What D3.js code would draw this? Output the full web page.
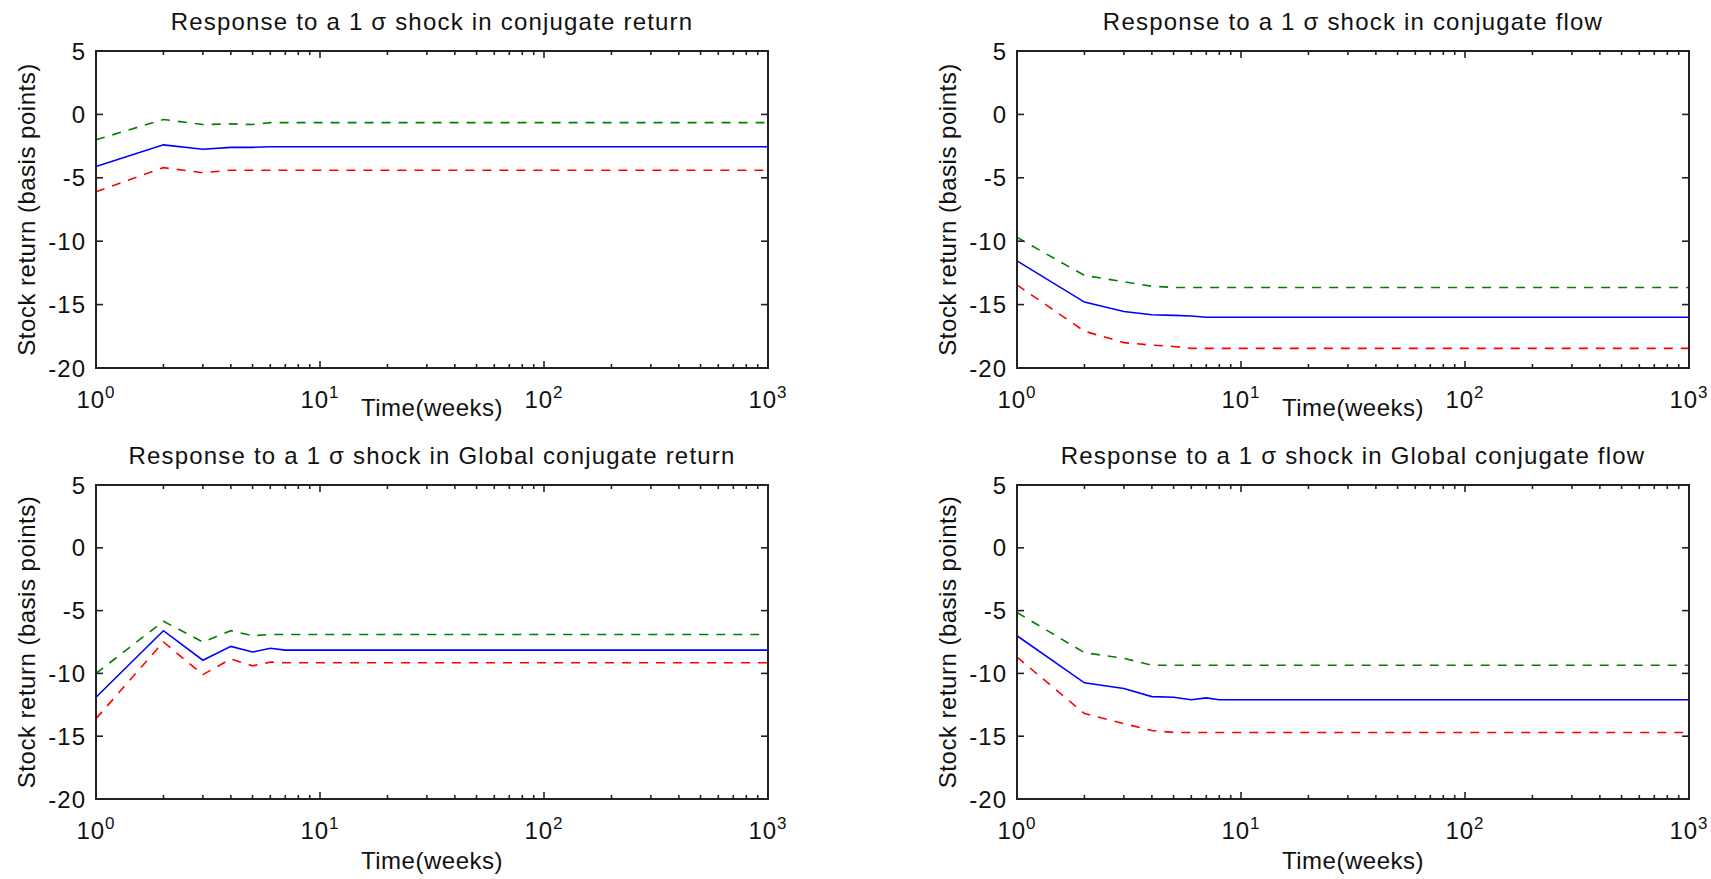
<!DOCTYPE html>
<html>
<head>
<meta charset="utf-8">
<script src="https://cdn.jsdelivr.net/npm/d3@7"></script>
<style>
  body { margin: 0; background: #fff; }
  svg text { font-family: "Liberation Sans", Arial, sans-serif; fill: #111; }
</style>
</head>
<body>
<svg id="chart" width="1711" height="879"></svg>
<script>
// DATA //
var weeks = [1, 2, 3, 4, 5, 6, 7, 8, 10, 100, 1000];

// conjugate return
var retMid = [-4.1, -2.4, -2.75, -2.6, -2.6, -2.55, -2.55, -2.55, -2.55, -2.55, -2.55];
var retUp  = [-2.0, -0.4, -0.8, -0.75, -0.8, -0.65, -0.65, -0.65, -0.65, -0.65, -0.65];
var retLo  = [-6.1, -4.2, -4.6, -4.4, -4.4, -4.4, -4.4, -4.4, -4.4, -4.4, -4.4];

// conjugate flow
var flowMid = [-11.55, -14.8, -15.55, -15.8, -15.85, -15.9, -16.0, -16.0, -16.0, -16.0, -16.0];
var flowUp  = [-9.7, -12.7, -13.2, -13.55, -13.65, -13.65, -13.65, -13.65, -13.65, -13.65, -13.65];
var flowLo  = [-13.45, -17.1, -18.0, -18.2, -18.3, -18.45, -18.45, -18.45, -18.45, -18.45, -18.45];

// Global conjugate return
var gRetMid = [-11.9, -6.6, -8.95, -7.85, -8.3, -8.0, -8.15, -8.15, -8.15, -8.15, -8.15];
var gRetUp  = [-10.0, -5.85, -7.5, -6.6, -7.0, -6.9, -6.9, -6.9, -6.9, -6.9, -6.9];
var gRetLo  = [-13.6, -7.5, -10.1, -8.85, -9.4, -9.1, -9.15, -9.15, -9.15, -9.15, -9.15];

// Global conjugate flow
var gFlowMid = [-7.0, -10.75, -11.2, -11.85, -11.9, -12.1, -11.95, -12.1, -12.1, -12.1, -12.1];
var gFlowUp  = [-5.15, -8.35, -8.8, -9.35, -9.35, -9.35, -9.35, -9.35, -9.35, -9.35, -9.35];
var gFlowLo  = [-8.7, -13.2, -14.0, -14.55, -14.7, -14.7, -14.7, -14.7, -14.7, -14.7, -14.7];

var titles = [
    'Response to a 1 \u03c3 shock in conjugate return',
    'Response to a 1 \u03c3 shock in conjugate flow',
    'Response to a 1 \u03c3 shock in Global conjugate return',
    'Response to a 1 \u03c3 shock in Global conjugate flow'
];
var yTicks = [5, 0, -5, -10, -15, -20];
var xMajor = [1, 10, 100, 1000];
var xLabel = 'Time(weeks)';
var yLabel = 'Stock return (basis points)';

// LAYOUT //
var panels = [
    { x0: 96,   x1: 768,  y0: 51,  y1: 368, xlab: 48, series: [retMid, retUp, retLo] },
    { x0: 1017, x1: 1689, y0: 51,  y1: 368, xlab: 48, series: [flowMid, flowUp, flowLo] },
    { x0: 96,   x1: 768,  y0: 485, y1: 799, xlab: 70, series: [gRetMid, gRetUp, gRetLo] },
    { x0: 1017, x1: 1689, y0: 485, y1: 799, xlab: 70, series: [gFlowMid, gFlowUp, gFlowLo] }
];
var styles = [
    { color: '#0000ff', dash: null },
    { color: '#008000', dash: '9,8' },
    { color: '#ff0000', dash: '9,8' }
];

// minor log ticks
var xMinor = [];
[1, 10, 100].forEach(function(d) {
    for (var k = 2; k <= 9; k++) xMinor.push(d * k);
});

var svg = d3.select('#chart');

panels.forEach(function(p, i) {
    var g = svg.append('g');
    var x = d3.scaleLog().domain([1, 1000]).range([p.x0, p.x1]);
    var y = d3.scaleLinear().domain([-20, 5]).range([p.y1, p.y0]);

    // data lines
    var line = d3.line()
        .x(function(d, j) { return x(weeks[j]); })
        .y(function(d) { return y(d); });

    p.series.forEach(function(s, k) {
        g.append('path')
            .datum(s)
            .attr('d', line)
            .attr('fill', 'none')
            .attr('stroke', styles[k].color)
            .attr('stroke-width', 1.6)
            .attr('stroke-dasharray', styles[k].dash);
    });

    // box
    g.append('rect')
        .attr('x', p.x0).attr('y', p.y0)
        .attr('width', p.x1 - p.x0).attr('height', p.y1 - p.y0)
        .attr('fill', 'none')
        .attr('stroke', '#222')
        .attr('stroke-width', 2);

    // y ticks (inward, both sides)
    yTicks.forEach(function(t) {
        var yy = y(t);
        g.append('line').attr('x1', p.x0).attr('x2', p.x0 + 7).attr('y1', yy).attr('y2', yy)
            .attr('stroke', '#222').attr('stroke-width', 1.6);
        g.append('line').attr('x1', p.x1).attr('x2', p.x1 - 7).attr('y1', yy).attr('y2', yy)
            .attr('stroke', '#222').attr('stroke-width', 1.6);
        g.append('text')
            .attr('x', p.x0 - 10).attr('y', yy)
            .attr('dy', '0.36em')
            .attr('text-anchor', 'end')
            .style('font-size', '24px')
            .style('letter-spacing', '1px')
            .text(t);
    });

    // x ticks
    xMajor.concat(xMinor).forEach(function(t) {
        var len = xMajor.indexOf(t) >= 0 ? 7 : 4;
        var xx = x(t);
        g.append('line').attr('x1', xx).attr('x2', xx).attr('y1', p.y1).attr('y2', p.y1 - len)
            .attr('stroke', '#222').attr('stroke-width', 1.6);
        g.append('line').attr('x1', xx).attr('x2', xx).attr('y1', p.y0).attr('y2', p.y0 + len)
            .attr('stroke', '#222').attr('stroke-width', 1.6);
    });

    xMajor.forEach(function(t, k) {
        var lab = g.append('text')
            .attr('x', x(t)).attr('y', p.y1 + 40)
            .attr('text-anchor', 'middle')
            .style('font-size', '24px')
            .style('letter-spacing', '1px');
        lab.append('tspan').text('10');
        lab.append('tspan').attr('dy', -10).style('font-size', '17px').text(k);
    });

    // axis labels and title
    g.append('text')
        .attr('x', (p.x0 + p.x1) / 2).attr('y', p.y1 + p.xlab)
        .attr('text-anchor', 'middle')
        .style('font-size', '24px')
        .style('letter-spacing', '0.5px')
        .text(xLabel);

    g.append('text')
        .attr('transform', 'translate(' + (p.x0 - 70) + ',' + ((p.y0 + p.y1) / 2) + ') rotate(-90)')
        .attr('text-anchor', 'middle')
        .attr('dy', '0.36em')
        .style('font-size', '24px')
        .style('letter-spacing', '0.5px')
        .text(yLabel);

    g.append('text')
        .attr('x', (p.x0 + p.x1) / 2).attr('y', p.y0 - 21)
        .attr('text-anchor', 'middle')
        .style('font-size', '24px')
        .style('letter-spacing', '1.2px')
        .text(titles[i]);
});
</script>
</body>
</html>
